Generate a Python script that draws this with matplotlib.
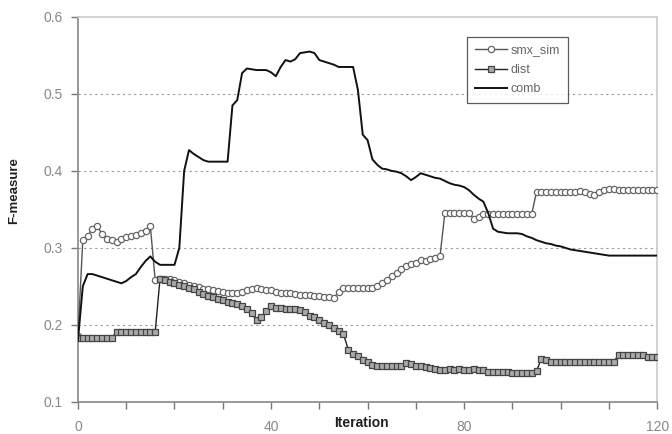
import matplotlib
matplotlib.use("Agg")
import matplotlib.pyplot as plt

plt.rcParams['font.family'] = ['Liberation Sans', 'DejaVu Sans']

iterations = list(range(121))

smx_sim = [
    0.185, 0.310, 0.315, 0.325, 0.328, 0.318, 0.312, 0.310, 0.308, 0.312,
    0.314, 0.316, 0.317, 0.320, 0.322, 0.328, 0.258, 0.260, 0.260, 0.259,
    0.258, 0.256, 0.254, 0.252, 0.250, 0.249, 0.247, 0.246, 0.245, 0.244,
    0.243, 0.242, 0.241, 0.241, 0.243, 0.245, 0.247, 0.248, 0.247, 0.245,
    0.245, 0.243, 0.242, 0.241, 0.241, 0.240, 0.239, 0.239, 0.239, 0.238,
    0.237, 0.236, 0.236, 0.235, 0.243, 0.248, 0.248, 0.248, 0.248, 0.248,
    0.248, 0.248, 0.250, 0.254, 0.258, 0.263, 0.268, 0.272, 0.276, 0.279,
    0.280, 0.284, 0.283, 0.285, 0.287, 0.289, 0.345, 0.345, 0.345, 0.345,
    0.345, 0.345, 0.338, 0.340, 0.344, 0.344, 0.344, 0.344, 0.344, 0.344,
    0.344, 0.344, 0.344, 0.344, 0.344, 0.373, 0.372, 0.372, 0.372, 0.372,
    0.372, 0.372, 0.372, 0.372, 0.374, 0.372, 0.370, 0.369, 0.372, 0.375,
    0.376, 0.377, 0.375, 0.375, 0.375, 0.375, 0.375, 0.375, 0.375, 0.375,
    0.375,
]

dist = [
    0.183, 0.183, 0.183, 0.183, 0.183, 0.183, 0.183, 0.183, 0.191, 0.191,
    0.191, 0.191, 0.191, 0.191, 0.191, 0.191, 0.191, 0.260, 0.258, 0.256,
    0.254, 0.252, 0.250, 0.248, 0.246, 0.243, 0.240, 0.238, 0.236, 0.234,
    0.232, 0.230, 0.229, 0.227, 0.224, 0.220, 0.215, 0.206, 0.210, 0.218,
    0.224, 0.222, 0.222, 0.221, 0.220, 0.220, 0.219, 0.217, 0.212, 0.210,
    0.206, 0.203, 0.200, 0.196, 0.192, 0.188, 0.168, 0.162, 0.159, 0.155,
    0.152, 0.148, 0.147, 0.147, 0.147, 0.147, 0.147, 0.147, 0.150, 0.149,
    0.147, 0.146, 0.145, 0.144, 0.143, 0.142, 0.142, 0.143, 0.142, 0.143,
    0.142, 0.142, 0.143, 0.142, 0.142, 0.139, 0.139, 0.139, 0.139, 0.139,
    0.137, 0.137, 0.137, 0.137, 0.137, 0.140, 0.156, 0.154, 0.152, 0.152,
    0.152, 0.152, 0.152, 0.152, 0.152, 0.152, 0.152, 0.152, 0.152, 0.152,
    0.152, 0.152, 0.161, 0.161, 0.161, 0.161, 0.161, 0.161, 0.158, 0.158,
    0.158,
]

comb = [
    0.180, 0.250, 0.266, 0.266, 0.264, 0.262, 0.260, 0.258, 0.256, 0.254,
    0.257, 0.262, 0.266, 0.275, 0.283, 0.289, 0.282, 0.278, 0.278, 0.278,
    0.278, 0.300, 0.400, 0.427, 0.422, 0.418, 0.414, 0.412, 0.412, 0.412,
    0.412, 0.412, 0.485, 0.492, 0.527, 0.533, 0.532, 0.531, 0.531, 0.531,
    0.528, 0.523, 0.535, 0.544, 0.542, 0.545, 0.553, 0.554, 0.555, 0.553,
    0.544, 0.542, 0.540, 0.538, 0.535, 0.535, 0.535, 0.535, 0.505, 0.447,
    0.440, 0.415, 0.408, 0.403, 0.402, 0.400, 0.399, 0.397, 0.393, 0.388,
    0.392, 0.397, 0.395, 0.393, 0.391, 0.390, 0.387, 0.384, 0.382, 0.381,
    0.379, 0.375, 0.369, 0.364, 0.360, 0.345, 0.325, 0.321, 0.320, 0.319,
    0.319, 0.319, 0.318, 0.315, 0.313, 0.310, 0.308, 0.306, 0.305, 0.303,
    0.302, 0.300, 0.298, 0.297, 0.296, 0.295, 0.294, 0.293, 0.292, 0.291,
    0.290, 0.290, 0.290, 0.290, 0.290, 0.290, 0.290, 0.290, 0.290, 0.290,
    0.290,
]

fig = plt.figure(figsize=(6.72, 4.34), dpi=100)
ax = fig.add_axes([0.116, 0.074, 0.862, 0.887])

ax.plot(iterations, smx_sim, color='#555555', lw=1, marker='o', ms=4.5,
        mfc='white', mec='#666666', mew=0.9, label='smx_sim', zorder=3)
ax.plot(iterations, dist, color='#222222', lw=1, marker='s', ms=4.5,
        mfc='#aaaaaa', mec='#444444', mew=0.9, label='dist', zorder=3)
ax.plot(iterations, comb, color='#111111', lw=1.4, label='comb', zorder=4)

ax.set_xlim(0, 120)
ax.set_ylim(0.1, 0.6)
ax.set_xticks(range(0, 121, 10))
ax.set_xticklabels([str(t) if t % 40 == 0 else '' for t in range(0, 121, 10)])
ax.set_yticks([0.1, 0.2, 0.3, 0.4, 0.5, 0.6])
ax.set_yticklabels(['0.1', '0.2', '0.3', '0.4', '0.5', '0.6'])

# dashed grid like the spreadsheet original
for y in [0.2, 0.3, 0.4, 0.5]:
    ax.axhline(y, color='#999999', lw=0.8, ls=(0, (2, 3)), zorder=1)

ax.tick_params(axis='both', colors='#777777', labelcolor='#888888',
               labelsize=10, length=5, width=1, direction='out')
ax.tick_params(axis='y', pad=6)
ax.tick_params(axis='x', pad=8)

ax.spines['left'].set_color('#888888')
ax.spines['bottom'].set_color('#888888')
ax.spines['top'].set_color('#cccccc')
ax.spines['right'].set_color('#cccccc')
for s in ax.spines.values():
    s.set_linewidth(1.2)

ax.set_xlabel('Iteration', fontsize=10, fontweight='bold', color='#222222')
ax.xaxis.set_label_coords(0.49, -0.055)
ax.xaxis.label.set_va('center')
ax.set_ylabel('F-measure', fontsize=9.5, fontweight='bold', color='#222222')
ax.yaxis.set_label_coords(-0.1, 0.55)

leg = ax.legend(loc='upper left', bbox_to_anchor=(0.672, 0.948), fontsize=9,
                frameon=True, fancybox=False, edgecolor='#333333',
                handlelength=2.6, borderpad=0.6, labelspacing=0.6,
                handletextpad=0.3, borderaxespad=0)
for t in leg.get_texts():
    t.set_color('#666666')
leg.get_frame().set_linewidth(0.9)

plt.savefig('out.png', dpi=100)
